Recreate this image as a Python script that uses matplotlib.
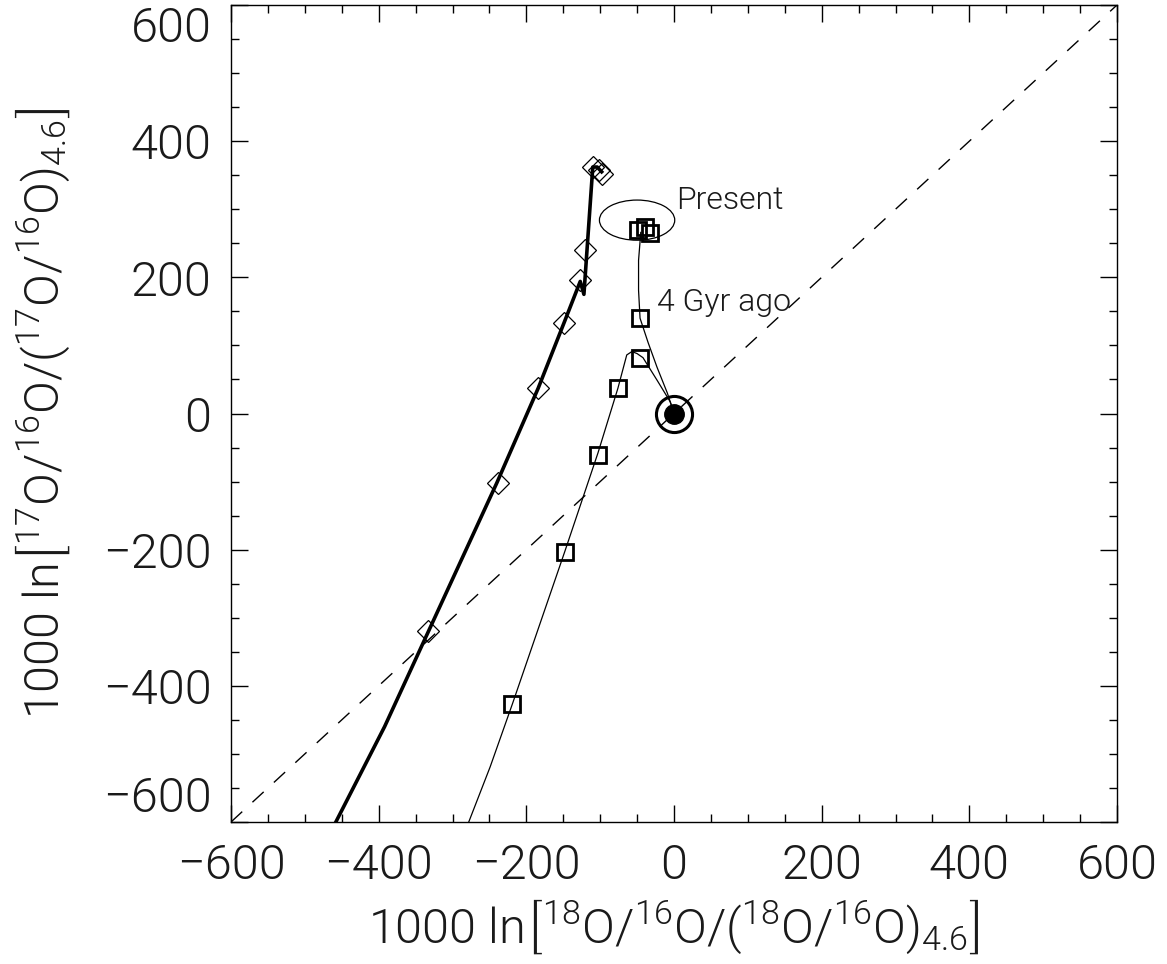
import matplotlib
matplotlib.use("Agg")
import matplotlib.pyplot as plt
from matplotlib.patches import Ellipse
from matplotlib.ticker import MultipleLocator

# ---- data ----
thick_x = [-458, -392, -333, -240, -184, -149, -127, -122, -110, -104, -98]
thick_y = [-600, -460, -321, -102, 37, 133, 194, 175, 362, 362, 355]

diamond_x = [-333, -238, -184, -149, -127, -120, -110, -102, -97]
diamond_y = [-320, -102, 37, 133, 196, 240, 362, 357, 352]

line1_x = [-278, -249, -219, -148, -103, -76, -64, -57, -50, -42, -23, -5, 0]
line1_y = [-600, -519, -427, -203, -58, 37, 86, 91, 88, 82, 49, 17, 0]

line2_x = [-45, -48, -48, -46, -35, -23, -9, 0]
line2_y = [266, 225, 181, 140, 104, 68, 30, 0]

square_x = [-219, -148, -103, -76, -46, -46, -49, -39, -33]
square_y = [-427, -203, -61, 37, 82, 140, 269, 274, 265]

sun_x, sun_y = 0, 0
ellipse_center = (-50, 284)
ellipse_w, ellipse_h = 102, 59

xticks = [-600, -400, -200, 0, 200, 400, 600]
yticks = [-600, -400, -200, 0, 200, 400, 600]
tick_text = ['\u2212600', '\u2212400', '\u2212200', '0', '200', '400', '600']

plt.rcParams['font.family'] = ['Roboto', 'DejaVu Sans']
plt.rcParams['font.weight'] = 300
plt.rcParams['axes.labelweight'] = 300
plt.rcParams['mathtext.default'] = 'regular'

TXT = '#1a1a1a'

fig = plt.figure(figsize=(11.67, 9.64), dpi=100)
ax = fig.add_axes([231/1167, 1 - 822/964, (1117-231)/1167, (822-5)/964])
ax.set_xlim(-600, 600)
ax.set_ylim(-600, 600)

# 1:1 dashed line
ax.plot([-600, 600], [-600, 600], color='black', lw=1.0, dashes=(11, 10))

# curves
ax.plot(thick_x, thick_y, color='black', lw=2.6, solid_joinstyle='round')
ax.plot(line1_x, line1_y, color='black', lw=0.9)
ax.plot(line2_x, line2_y, color='black', lw=0.9)

ax.plot(diamond_x, diamond_y, 'D', ms=11, mfc='none', mec='black', mew=0.9)
ax.plot(square_x, square_y, 's', ms=11, mfc='none', mec='black', mew=2.0)

# sun symbol
ax.plot([sun_x], [sun_y], 'o', ms=26, mfc='none', mec='black', mew=2.2)
ax.plot([sun_x], [sun_y], 'o', ms=14, mfc='black', mec='black')

ax.add_patch(Ellipse(ellipse_center, ellipse_w, ellipse_h, fill=False, ec='black', lw=0.9))

ax.text(3, 300, 'Present', fontsize=23, color=TXT, ha='left', va='baseline')
ax.text(-23, 150, '4 Gyr ago', fontsize=23, color=TXT, ha='left', va='baseline')

ax.set_xticks(xticks)
ax.set_yticks(yticks)
ax.set_xticklabels(tick_text)
ax.set_yticklabels(tick_text)
ax.xaxis.set_minor_locator(MultipleLocator(50))
ax.yaxis.set_minor_locator(MultipleLocator(50))
ax.tick_params(which='both', direction='in', top=True, right=True, width=1.0, color='black')
ax.tick_params(which='major', length=12, labelsize=35, labelcolor=TXT)
ax.tick_params(which='minor', length=6)
ax.tick_params(axis='x', which='major', pad=15)
ax.tick_params(axis='y', which='major', pad=14)
ylabs = ax.get_yticklabels()
ylabs[0].set_va('bottom')
ylabs[-1].set_va('top')
for s in ax.spines.values():
    s.set_linewidth(1.0)

ax.set_xlabel(r'1000 ln$\left[{}^{18}O/{}^{16}O/({}^{18}O/{}^{16}O)_{4.6}\right]$',
              fontsize=35, color=TXT, labelpad=6)
ax.set_ylabel(r'1000 ln$\left[{}^{17}O/{}^{16}O/({}^{17}O/{}^{16}O)_{4.6}\right]$',
              fontsize=35, color=TXT, labelpad=22)

fig.savefig('out.png', dpi=100)
